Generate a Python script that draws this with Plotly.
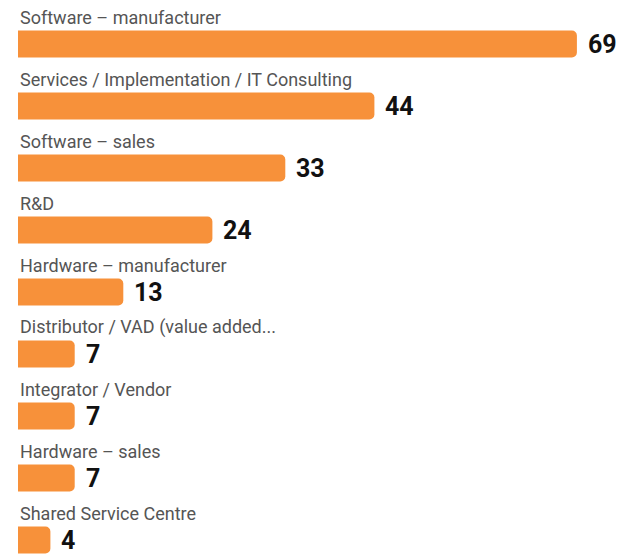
import plotly.graph_objects as go

categories = [
    "Software – manufacturer",
    "Services / Implementation / IT Consulting",
    "Software – sales",
    "R&D",
    "Hardware – manufacturer",
    "Distributor / VAD (value added...",
    "Integrator / Vendor",
    "Hardware – sales",
    "Shared Service Centre",
]
values = [69, 44, 33, 24, 13, 7, 7, 7, 4]

ypos = list(range(len(categories)))

fig = go.Figure()
fig.add_trace(go.Bar(
    x=values, y=ypos, orientation="h",
    marker=dict(color="#F7913A", line=dict(width=0)),
    width=0.435, hoverinfo="skip",
))

for i, (c, v) in enumerate(zip(categories, values)):
    fig.add_annotation(x=0, y=i, text=c, xref="x", yref="y",
                       xanchor="left", yanchor="middle", yshift=27, showarrow=False,
                       font=dict(family="Roboto", size=18, color="#555555"))
    fig.add_annotation(x=v, y=i, text="<b>%d</b>" % v, xref="x", yref="y",
                       xanchor="left", yanchor="middle", xshift=9, yshift=0, showarrow=False,
                       font=dict(family="Roboto", size=25, color="#111111"))

fig.update_layout(
    width=617, height=556,
    margin=dict(l=18, r=0, t=0, b=0),
    paper_bgcolor="white", plot_bgcolor="white",
    barcornerradius=5,
    showlegend=False,
    xaxis=dict(range=[0, 73.95], visible=False),
    yaxis=dict(range=[8.258, -0.71], visible=False),
)
fig.write_html(
    "out.html",
    config={"displayModeBar": False},
    post_script="document.body.style.margin='0';document.body.style.overflow='hidden';",
)
